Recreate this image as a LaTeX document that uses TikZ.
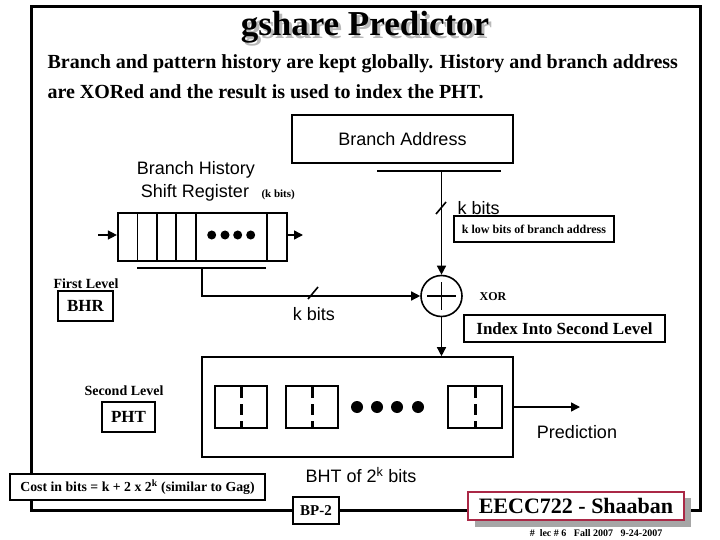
\documentclass[tikz,border=0pt]{standalone}
\usepackage{fontspec}
\setmainfont{Liberation Serif}
\setsansfont{Liberation Sans}
\usetikzlibrary{arrows.meta}
\definecolor{crim}{RGB}{170,40,70}
\tikzset{
  box/.style={draw, line width=1.6, fill=white, inner sep=0pt, minimum width=#1},
  arr/.style={-{Triangle[length=9,width=9]}, line width=1.4},
  ln/.style={line width=1.6},
  sb/.style={font=\fontsize{#1}{#1}\selectfont\bfseries},
  ss/.style={font=\fontsize{#1}{#1}\sffamily},
  dotf/.style={fill=black, circle, inner sep=0pt, minimum size=#1},
  cell/.style={draw, line width=1.6},
}
\begin{document}
\begin{tikzpicture}[x=1pt,y=-1pt]
\useasboundingbox (0,0) rectangle (720,540);
% frame
\draw[line width=3] (31,7) rectangle (700,510);
% title with shadow
\node[sb=35, anchor=base] (title) at (365,36) {\makebox[0pt][l]{\hspace{3pt}\raisebox{-3pt}{\color{gray!55}gshare Predictor}}gshare Predictor};
\node[sb=20, anchor=base west] (sub1) at (44,69) {Branch and pattern history are kept globally. History and branch address};
\node[sb=20, anchor=base west] (sub2) at (44,99) {are XORed and the result is used to index the PHT.};
% branch address
\node[box=221, minimum height=48, ss=18] (ba) at (402.5,139) {Branch Address};
\draw[ln] (377,171) -- (501,171);
\coordinate (batap) at (441.5,171);
% XOR
\node[draw, circle, line width=1.6, minimum size=41, inner sep=0pt, fill=white] (xor) at (441.5,296) {};
\draw[line width=1.4] (427,296) -- (456,296) (441.5,282) -- (441.5,310);
\draw[arr] (batap) -- (xor.north);
\draw[ln] (436,214) -- (446,202);
\node[ss=18, anchor=west] (kb1) at (454,208) {k bits};
\node[box=160, minimum height=26, sb=12] (klow) at (534,229) {k low bits of branch address};
\node[sb=12] (xorlbl) at (493,297) {XOR};
\node[box=201, minimum height=27, sb=17] (idx) at (564.5,328.5) {Index Into Second Level};
% register
\node[draw, line width=1.6, minimum width=169, minimum height=48, inner sep=0pt] (reg) at (202.2,236.8) {};
\foreach \x in {137.3,156.7,176,195.7,266.7} \draw[ln] (\x,212.8) -- (\x,260.8);
\foreach \x in {211.7,225,237.7,250.7} \node[dotf=9] at (\x,235) {};
\coordinate (regin) at (98,235);
\coordinate (regout) at (303,235);
\draw[arr] (regin) -- (reg.west |- regin);
\draw[arr] (reg.east |- regout) -- (regout);
\node[ss=18, anchor=base] (bh1) at (196,175) {Branch History};
\node[ss=18, anchor=base] (bh2) at (195,197) {Shift Register};
\node[sb=11, anchor=base west] (kb0) at (258,197) {(k bits)};
\draw[ln] (137,268) -- (266,268);
\coordinate (regtap) at (202,268);
\draw[arr] (regtap) |- (xor.west);
\draw[ln] (308,299) -- (318,287);
\node[ss=18] (kb2) at (314,314) {k bits};
% first / second level
\node[sb=14, anchor=base] (fl) at (86,288) {First Level};
\node[box=55, minimum height=30, sb=17] (bhr) at (85.5,306) {BHR};
\node[sb=14, anchor=base] (sl) at (124,395) {Second Level};
\node[box=53, minimum height=30, sb=17] (pht) at (128.5,417) {PHT};
% BHT
\node[draw, line width=1.6, minimum width=311, minimum height=100, inner sep=0pt] (bht) at (357.5,407) {};
\draw[arr] (xor.south) -- (xor.south |- bht.north);
\foreach \a/\b in {215/267,286/338,448/502}{
  \draw[cell] (\a,386) rectangle (\b,428);
  \draw[line width=3, dash pattern=on 11 off 6] ({(\a+\b)/2},387) -- ({(\a+\b)/2},428);
}
\foreach \x in {357,377,397,418} \node[dotf=12] at (\x,407) {};
\coordinate (pred) at (580,407);
\draw[arr] (bht.east) -- (pred);
\node[ss=18] (predl) at (577,432) {Prediction};
\node[ss=18] (bhtl) at (361,475) {BHT of 2\textsuperscript{k} bits};
% bottom
\node[box=255, minimum height=26, sb=13.8] (cost) at (137.5,487) {Cost in bits = k + 2 x 2\textsuperscript{k} (similar to Gag)};
\node[box=46, minimum height=27, sb=15] (bp) at (316,510.5) {BP-2};
\fill[gray!70] (475,498) rectangle (691,527);
\node[draw=crim, line width=1.6, fill=white, minimum width=216, minimum height=28, inner sep=0pt, sb=22] (eecc) at (576,506) {EECC722 - Shaaban};
\node[sb=10] (foot) at (596,533) {\#\ \ lec \# 6\ \ \ Fall 2007\ \ \ 9-24-2007};
\end{tikzpicture}
\end{document}
